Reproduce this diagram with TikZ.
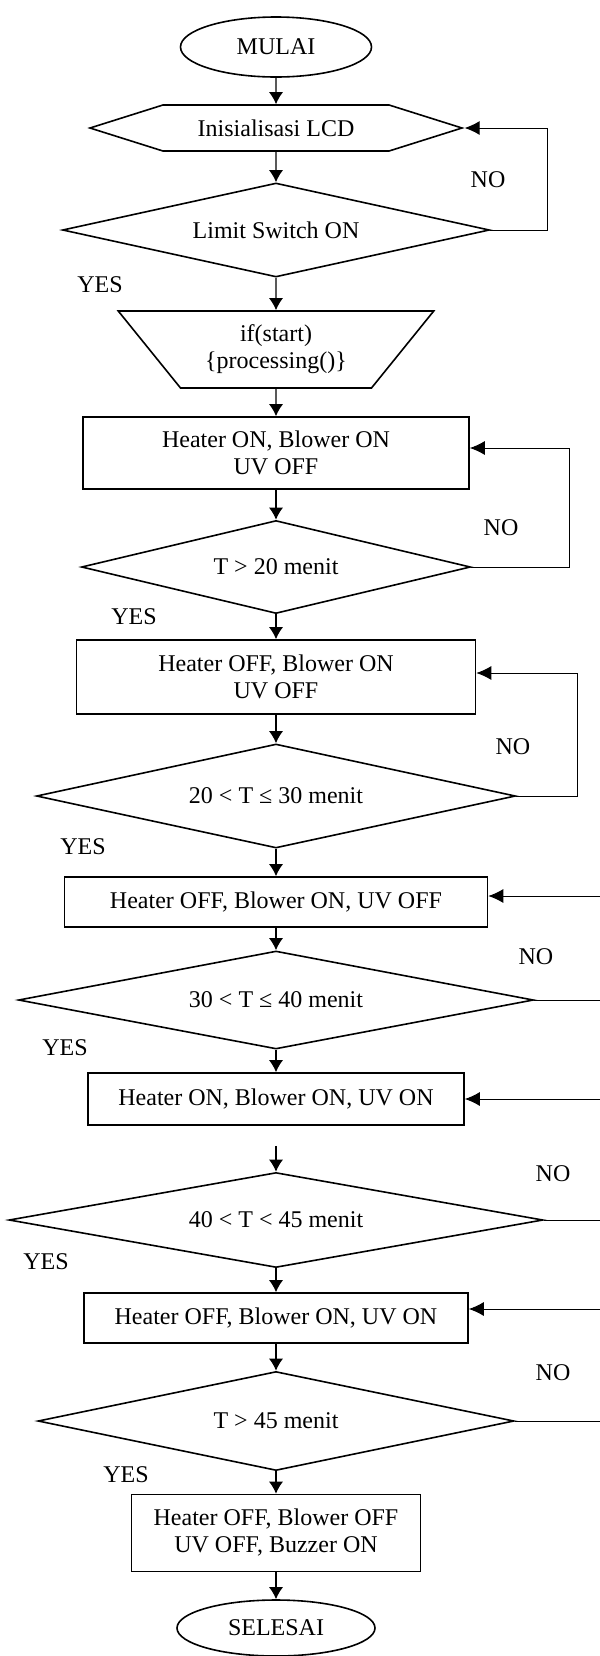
\documentclass[tikz,border=0pt]{standalone}
\usepackage{fontspec}
\setmainfont{Liberation Serif}
\usetikzlibrary{positioning}
\usetikzlibrary{shapes}
\usetikzlibrary{arrows.meta}

\begin{document}
\begin{tikzpicture}[-{Latex[length=6pt,width=7pt]}, x=0.5pt, y=-0.5pt,
  on grid, semithick, font=\fontsize{12}{13.5}\selectfont,
  terminal/.style ={ellipse, draw, thick, minimum width=95.5pt, minimum height=30pt},
  prep/.style ={signal, signal to=west and east, signal pointer angle=35,
  draw, thick, minimum width=186pt, minimum height=23pt, inner sep=1pt},
  manual/.style ={trapezium, trapezium left angle=129, trapezium right angle=129,
  trapezium stretches=true, draw, thick, align=center, minimum width=158pt, minimum height=38.5pt},
  process/.style ={rectangle, draw, thick, align=center},
  decision/.style ={diamond, draw, thick, aspect=4.5, inner sep=0pt},
  answer/.style ={inner sep=0pt},
  loopline/.style ={line width=0.5pt, -{Latex[length=7.5pt,width=7pt]}}]
  \useasboundingbox (0,0) rectangle (600,1656);
  \coordinate (edge) at (600,0);
  \node[terminal] (start) at (276,47) {MULAI};
  \node[prep] (lcd) [below=40.5pt of start] {Inisialisasi LCD};
  \node[decision, minimum width=213.5pt, minimum height=47pt] (limit) [below=51pt of lcd]
  {Limit Switch ON};
  \node[manual] (proc) [below=59.75pt of limit] {if(start)\\\{processing()\}};
  \node[process, minimum width=193pt, minimum height=36pt] (heat1) [below=51.75pt of proc]
  {Heater ON, Blower ON\\UV OFF};
  \node[decision, minimum width=194.5pt, minimum height=46.5pt] (t20) [below=57pt of heat1]
  {T > 20 menit};
  \node[process, minimum width=199.5pt, minimum height=37pt] (heat2) [below=55pt of t20]
  {Heater OFF, Blower ON\\UV OFF};
  \node[decision, minimum width=239.5pt, minimum height=52pt] (t30) [below=59.5pt of heat2]
  {20 < T ≤ 30 menit};
  \node[process, minimum width=211.5pt, minimum height=25pt] (heat3) [below=53pt of t30]
  {Heater OFF, Blower ON, UV OFF};
  \node[decision, minimum width=257.5pt, minimum height=49pt] (t40) [below=49pt of heat3]
  {30 < T ≤ 40 menit};
  \node[process, minimum width=188pt, minimum height=26pt] (heat4) [below=49.5pt of t40]
  {Heater ON, Blower ON, UV ON};
  \node[decision, minimum width=267pt, minimum height=47.5pt] (t45) [below=60.5pt of heat4]
  {40 < T < 45 menit};
  \node[process, minimum width=192pt, minimum height=25pt] (heat5) [below=49pt of t45]
  {Heater OFF, Blower ON, UV ON};
  \node[decision, minimum width=238pt, minimum height=49.5pt] (tend) [below=51.5pt of heat5]
  {T > 45 menit};
  \node[process, minimum width=144.5pt, minimum height=38.5pt] (buzz) [below=56pt of tend]
  {Heater OFF, Blower OFF\\UV OFF, Buzzer ON};
  \node[terminal, minimum width=99pt, minimum height=28pt] (stop) [below=47.5pt of buzz] {SELESAI};

  % YES / NO
  \node[answer] (no1) at (488,180) {NO};
  \node[answer] (yes1) at (100,285) {YES};
  \node[answer] (no2) at (501,528) {NO};
  \node[answer] (yes2) at (134,617) {YES};
  \node[answer] (no3) at (513,747) {NO};
  \node[answer] (yes3) at (83,847) {YES};
  \node[answer] (no4) at (536,957) {NO};
  \node[answer] (yes4) at (65,1048) {YES};
  \node[answer] (no5) at (553,1174) {NO};
  \node[answer] (yes5) at (46,1262) {YES};
  \node[answer] (no6) at (553,1373) {NO};
  \node[answer] (yes6) at (126,1475) {YES};

  \path (start) edge (lcd);
  \path (lcd) edge (limit);
  \path (limit) edge (proc);
  \path (proc) edge (heat1);
  \path (heat1) edge (t20);
  \path (t20) edge (heat2);
  \path (heat2) edge (t30);
  \path (t30) edge (heat3);
  \path (heat3) edge (t40);
  \path (t40) edge (heat4);
  \coordinate (gap) at ([yshift=-10pt]heat4.south);
  \path (gap) edge (t45);
  \path (t45) edge (heat5);
  \path (heat5) edge (tend);
  \path (tend) edge (buzz);
  \path (buzz) edge (stop);

  % loops back
  \draw[loopline] (limit.east) -- ++(57.5,0) |- (lcd.east);
  \draw[loopline] (t20.east) -- ++(98.5,0) |- ([yshift=2.5pt]heat1.east);
  \draw[loopline] (t30.east) -- ++(61.5,0) |- ([yshift=2pt]heat2.east);
  \coordinate (in3) at ([yshift=3pt]heat3.east);
  \coordinate (in5) at ([yshift=4.5pt]heat5.east);
  \draw[loopline] (in3 -| edge) -- (in3);
  \draw[loopline, -] (t40.east) -- (t40.east -| edge);
  \draw[loopline] (heat4.east -| edge) -- (heat4.east);
  \draw[loopline, -] (t45.east) -- (t45.east -| edge);
  \draw[loopline] (in5 -| edge) -- (in5);
  \draw[loopline, -] (tend.east) -- (tend.east -| edge);
\end{tikzpicture}
\end{document}
